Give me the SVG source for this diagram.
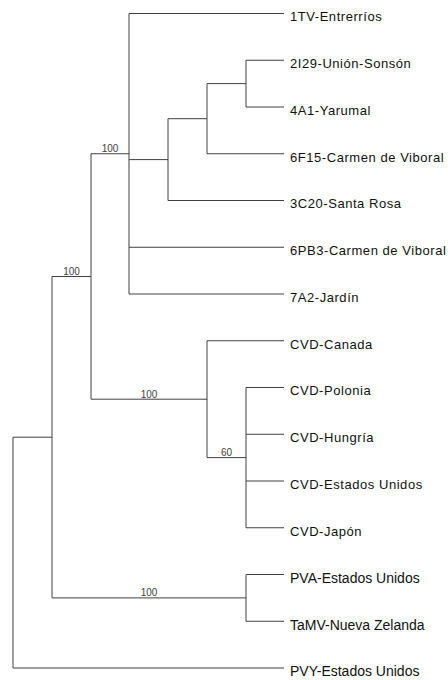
<svg xmlns="http://www.w3.org/2000/svg" width="448" height="680" viewBox="0 0 448 680">
<style>
.e{stroke:#404040;stroke-width:1;fill:none;}
.t{font-family:"Liberation Sans",Arial,sans-serif;font-size:13px;letter-spacing:0.55px;fill:#111;}
.t2{font-family:"Liberation Sans",Arial,sans-serif;font-size:14px;fill:#111;}
.b{font-family:"Liberation Sans",Arial,sans-serif;font-size:10px;fill:#444;text-anchor:middle;}
</style>
<rect width="448" height="680" fill="#fff"/>
<g id="connectors">
<path class="e" d="M246,60.25V107M207,83.6V153.75M168,118.7V200.5M129,13.5V294M246,387.5V527.75M207,340.75V457.6M91,153.75V399.2M246,574.5V621.25M52,276.5V597.9M13,437.2V668"/>
<path class="e" d="M129,13.5H284M246,60.25H284M246,107H284M207,153.75H284M168,200.5H284M129,247.25H284M129,294H284M207,340.75H284M246,387.5H284M246,434.25H284M246,481H284M246,527.75H284M246,574.5H284M246,621.25H284M13,668H284"/>
<path class="e" d="M207,83.6H246M168,118.7H207M129,159.6H168M91,153.75H129M207,457.6H246M91,399.2H207M52,276.5H91M52,597.9H246M13,437.2H52"/>
</g>
<g id="bootstrap">
<text class="b" x="110" y="152.2">100</text>
<text class="b" x="71.5" y="275">100</text>
<text class="b" x="149" y="397.5">100</text>
<text class="b" x="226.5" y="456">60</text>
<text class="b" x="149" y="596.2">100</text>
</g>
<g id="n-1TV"><text class="t" x="290" y="21.2">1TV-Entrerríos</text></g>
<g id="n-2I29"><text class="t" x="290" y="68">2I29-Unión-Sonsón</text></g>
<g id="n-4A1"><text class="t" x="290" y="114.7">4A1-Yarumal</text></g>
<g id="n-6F15"><text class="t" x="290" y="161.5">6F15-Carmen de Viboral</text></g>
<g id="n-3C20"><text class="t" x="290" y="208.2">3C20-Santa Rosa</text></g>
<g id="n-6PB3"><text class="t" x="290" y="255">6PB3-Carmen de Viboral</text></g>
<g id="n-7A2"><text class="t" x="290" y="301.7">7A2-Jardín</text></g>
<g id="n-CVD-Canada"><text class="t" x="290" y="348.5">CVD-Canada</text></g>
<g id="n-CVD-Polonia"><text class="t" x="290" y="395.2">CVD-Polonia</text></g>
<g id="n-CVD-Hungria"><text class="t" x="290" y="442">CVD-Hungría</text></g>
<g id="n-CVD-EEUU"><text class="t" x="290" y="488.7">CVD-Estados Unidos</text></g>
<g id="n-CVD-Japon"><text class="t" x="290" y="535.5">CVD-Japón</text></g>
<g id="n-PVA"><text class="t2" x="290" y="582.8">PVA-Estados Unidos</text></g>
<g id="n-TaMV"><text class="t2" x="290" y="629.5">TaMV-Nueva Zelanda</text></g>
<g id="n-PVY"><text class="t2" x="290" y="676.3">PVY-Estados Unidos</text></g>
</svg>
